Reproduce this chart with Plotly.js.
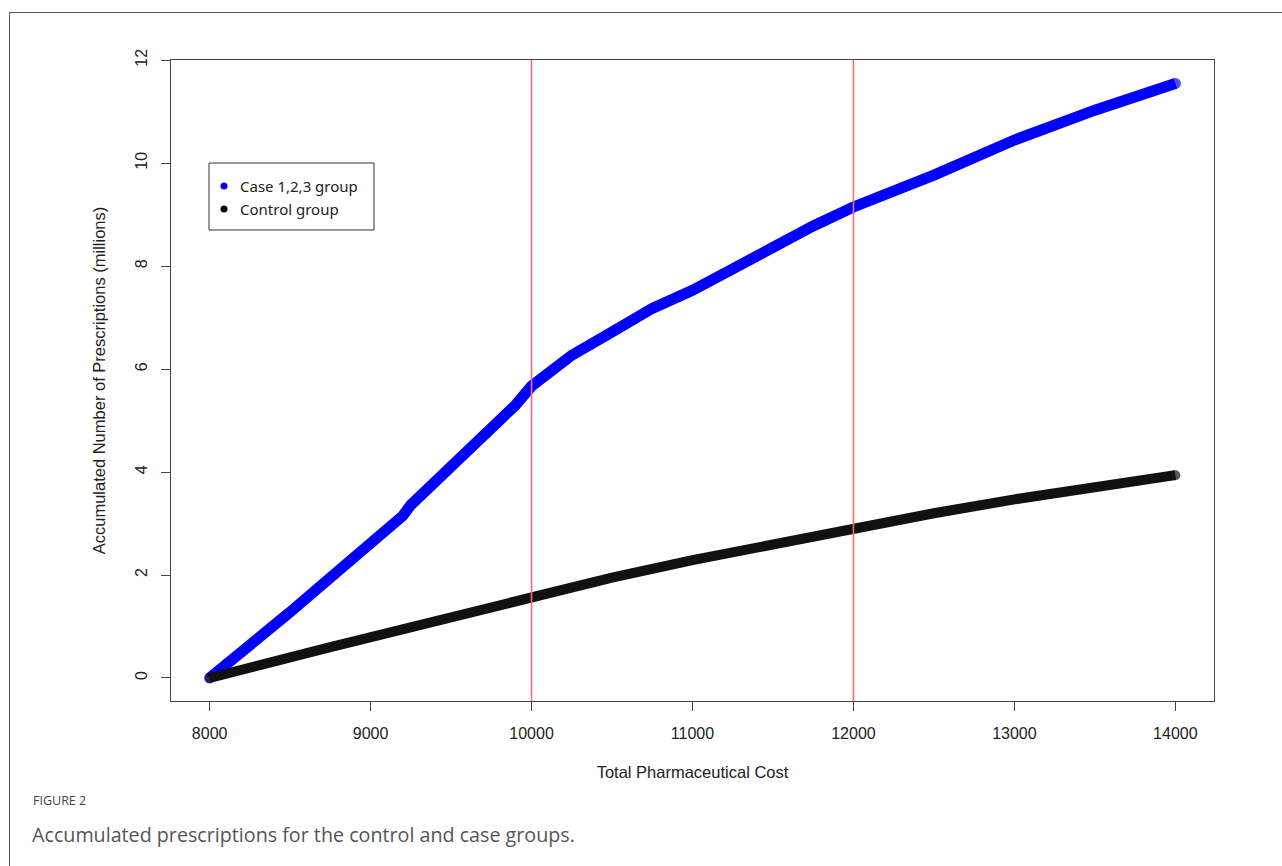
<!DOCTYPE html>
<html>
<head>
<meta charset="utf-8">
<script src="https://cdn.plot.ly/plotly-3.0.1.min.js"></script>
<style>
  html, body { margin: 0; padding: 0; background: #fff; overflow: hidden; }
  #frame { position: absolute; left: 9px; top: 12px; width: 1400px; height: 1000px; border: 1px solid #555; pointer-events: none; }
  #chart { position: absolute; left: 0; top: 0; width: 1282px; height: 866px; }
</style>
</head>
<body>
<div id="chart"></div>
<div id="frame"></div>
<script>
// ---- data ----
const caseCost = [8000, 8100, 8150, 8250, 8500, 8750, 9000, 9200, 9250, 9500, 9750, 9900, 10000, 10250, 10500, 10750, 11000, 11250, 11500, 11750, 12000, 12500, 13000, 13500, 14000];
const caseRx   = [0, 0.25, 0.41, 0.66, 1.28, 1.95, 2.62, 3.15, 3.36, 4.08, 4.82, 5.30, 5.67, 6.27, 6.72, 7.18, 7.53, 7.96, 8.41, 8.78, 9.15, 9.77, 10.45, 11.03, 11.55];

const controlCost = [8000, 8100, 8250, 8500, 8750, 9000, 9250, 9500, 9750, 10000, 10500, 11000, 11500, 12000, 12500, 13000, 13500, 14000];
const controlRx   = [0, 0.09, 0.22, 0.40, 0.60, 0.80, 1.00, 1.20, 1.40, 1.60, 1.95, 2.29, 2.60, 2.93, 3.20, 3.47, 3.71, 3.94];

const seriesNames = ["Case 1,2,3 group", "Control group"];
const seriesColors = ["#0000ff", "#000000"];
const refLines = [10000, 12000];
const xTicks = [8000, 9000, 10000, 11000, 12000, 13000, 14000];
const yTicks = [0, 2, 4, 6, 8, 10, 12];

// plot area geometry (pixels) for paper-coordinate helpers
const PL = 171, PR = 1214, PT = 60, PB = 701;
const px = v => (v - PL) / (PR - PL);
const py = v => (PB - v) / (PB - PT);

const axisFont = { family: "Liberation Sans, Arial, sans-serif", size: 16, color: "#222" };
const titleFont = { family: "Liberation Sans, Arial, sans-serif", size: 16.5, color: "#222" };

function endSizes(n, s) { return Array.from({ length: n }, (_, i) => (i === 0 || i === n - 1) ? s : 0); }

const traces = [
  { x: caseCost, y: caseRx, mode: "lines+markers", showlegend: false,
    line: { color: seriesColors[0], width: 11 },
    marker: { color: seriesColors[0], size: endSizes(caseCost.length, 11), line: { width: 0 } } },
  { x: controlCost, y: controlRx, mode: "lines+markers", showlegend: false,
    line: { color: "#111", width: 10 },
    marker: { color: "#111", size: endSizes(controlCost.length, 10), line: { width: 0 } } }
];

const shapes = refLines.map(v => ({
  type: "line", xref: "x", yref: "paper", x0: v, x1: v, y0: 0, y1: 1,
  line: { color: "rgb(238,112,112)", width: 1.6 }, layer: "above"
}));

// legend box (drawn manually to match the reference)
shapes.push({ type: "rect", xref: "paper", yref: "paper", x0: px(209), x1: px(374), y0: py(230), y1: py(163),
  line: { color: "#333", width: 1 }, fillcolor: "#fff", layer: "above" });
const legendRows = [186, 209];
const annotations = [];
seriesNames.forEach((name, i) => {
  shapes.push({ type: "circle", xref: "paper", yref: "paper", xsizemode: "pixel", ysizemode: "pixel",
    xanchor: px(224), yanchor: py(legendRows[i]), x0: -3.5, x1: 3.5, y0: -3.5, y1: 3.5,
    fillcolor: seriesColors[i], line: { width: 0 }, layer: "above" });
  annotations.push({ text: name, xref: "paper", yref: "paper", x: px(238), y: py(legendRows[i]),
    xanchor: "left", yanchor: "middle", showarrow: false,
    font: { family: "Noto Sans, Open Sans, sans-serif", size: 15, color: "#222" } });
});

annotations.push(
  { text: "FIGURE 2", xref: "paper", yref: "paper", x: px(31), y: py(800),
    xanchor: "left", yanchor: "middle", showarrow: false,
    font: { family: "Open Sans, Noto Sans, sans-serif", size: 12.5, color: "#444" } },
  { text: "Accumulated prescriptions for the control and case groups.", xref: "paper", yref: "paper",
    x: px(30), y: py(834), xanchor: "left", yanchor: "middle", showarrow: false,
    font: { family: "Open Sans, Noto Sans, sans-serif", size: 19.7, color: "#555" } }
);

const layout = {
  width: 1282, height: 866,
  margin: { l: PL, r: 1282 - PR, t: PT, b: 866 - PB },
  paper_bgcolor: "#fff", plot_bgcolor: "#fff",
  showlegend: false,
  xaxis: {
    range: [7760, 14240], tickvals: xTicks, ticktext: xTicks.map(String),
    ticks: "outside", ticklen: 9, tickcolor: "#444", tickwidth: 1,
    showline: true, mirror: true, linecolor: "#444", linewidth: 1,
    showgrid: false, zeroline: false, tickfont: axisFont, ticklabelstandoff: 9,
    title: { text: "Total Pharmaceutical Cost", font: titleFont, standoff: 25 }
  },
  yaxis: {
    range: [-0.447, 12.005], tickvals: yTicks, ticktext: yTicks.map(String), tickangle: -90,
    ticks: "outside", ticklen: 9, tickcolor: "#444", tickwidth: 1,
    showline: true, mirror: true, linecolor: "#444", linewidth: 1,
    showgrid: false, zeroline: false, tickfont: axisFont, ticklabelstandoff: 8,
    title: { text: "Accumulated Number of Prescriptions (millions)", font: titleFont, standoff: 22 }
  },
  shapes: shapes,
  annotations: annotations
};

Plotly.newPlot("chart", traces, layout, { displayModeBar: false, staticPlot: true });
</script>
</body>
</html>
